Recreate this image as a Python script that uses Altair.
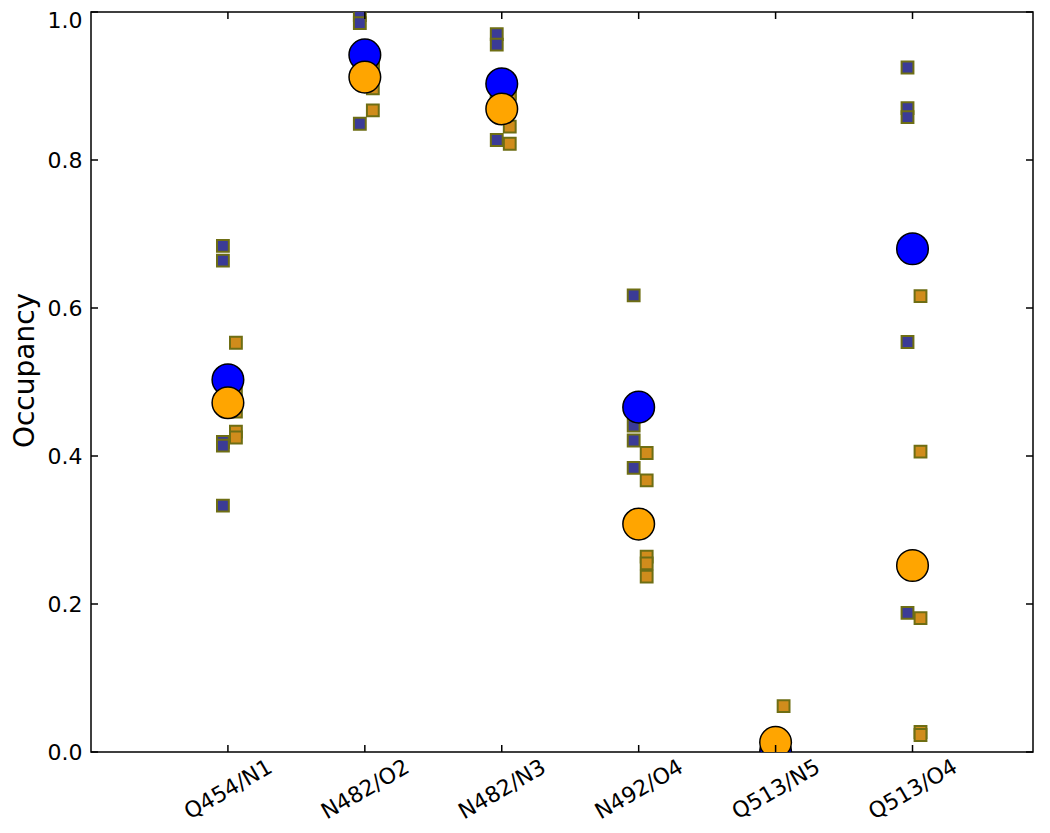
import json
import altair as alt
import pandas as pd

categories = ["Q454/N1", "N482/O2", "N482/N3", "N492/O4", "Q513/N5", "Q513/O4"]
blue_means = [0.503, 0.942, 0.903, 0.466, 0.000, 0.680]
orange_means = [0.472, 0.912, 0.869, 0.308, 0.013, 0.252]
blue_samples = [
    [0.684, 0.664, 0.419, 0.414, 0.333],
    [0.996, 0.985, 0.849, 0.945, 0.935],
    [0.970, 0.956, 0.827, 0.885, 0.877],
    [0.617, 0.441, 0.421, 0.384, 0.467],
    [0.000, 0.000, 0.000, 0.000, 0.000],
    [0.925, 0.870, 0.858, 0.554, 0.188],
]
orange_samples = [
    [0.553, 0.489, 0.460, 0.433, 0.425],
    [0.935, 0.930, 0.931, 0.897, 0.867],
    [0.900, 0.890, 0.888, 0.845, 0.822],
    [0.404, 0.367, 0.264, 0.255, 0.237],
    [0.062, 0.000, 0.000, 0.000, 0.000],
    [0.616, 0.406, 0.181, 0.027, 0.023],
]
y_ticks = [0.0, 0.2, 0.4, 0.6, 0.8, 1.0]

W, H = 942, 740
FONT = "DejaVu Sans"

positions = list(range(1, len(categories) + 1))
means_df = pd.DataFrame({"pos": positions, "blue": blue_means, "orange": orange_means})
bs = pd.DataFrame([{"pos": p, "v": v} for p, vals in zip(positions, blue_samples) for v in vals])
os_ = pd.DataFrame([{"pos": p, "v": v} for p, vals in zip(positions, orange_samples) for v in vals])
yt_df = pd.DataFrame({"v": y_ticks})
xt_df = pd.DataFrame({"pos": positions})

label_expr = json.dumps(categories) + "[datum.value - 1]"

xscale = alt.Scale(domain=[0, 6.88], nice=False, zero=False)
yscale = alt.Scale(domain=[0, 1], nice=False)

x_axis = alt.Axis(values=positions, labelExpr=label_expr, labelAngle=330, labelAlign="center",
                  labelBaseline="middle", labelPadding=37, labelFontSize=22, labelFont=FONT,
                  labelColor="black", ticks=False, domain=False, grid=False, title=None)
y_axis = alt.Axis(values=y_ticks, format=".1f", labelFontSize=22, labelFont=FONT, labelColor="black",
                  labelPadding=9, ticks=False, domain=False, grid=False, title="Occupancy",
                  labelOffset={"condition": {"test": "datum.value == 1", "value": 8}, "value": 0},
                  titleFont=FONT, titleFontSize=28, titleFontWeight="normal", titleColor="black",
                  titleAngle=270, titleX=-66, titleY=358, titleAlign="center", titleBaseline="middle")

X = alt.X("pos:Q", scale=xscale, axis=x_axis)
Ystr = lambda f: alt.Y(f, scale=yscale, axis=y_axis)

sq_blue = alt.Chart(bs).mark_square(size=140, fill="#3b3b96", fillOpacity=1, stroke="#6e6e14",
                                    strokeWidth=2, xOffset=-5, clip=True).encode(x=X, y=Ystr("v:Q"))
sq_orange = alt.Chart(os_).mark_square(size=140, fill="#d08c1c", fillOpacity=1, stroke="#6e6e14",
                                       strokeWidth=2, xOffset=8, clip=True).encode(x=X, y=Ystr("v:Q"))
c_blue = alt.Chart(means_df).mark_circle(size=1000, color="#0000ff", opacity=1, stroke="black",
                                         strokeWidth=1.5, clip=True).encode(x=X, y=Ystr("blue:Q"))
c_orange = alt.Chart(means_df).mark_circle(size=1000, color="#ffa500", opacity=1, stroke="black",
                                           strokeWidth=1.5, clip=True).encode(x=X, y=Ystr("orange:Q"))

tick_len = 7
yt_left = alt.Chart(yt_df).mark_rule(color="black", strokeWidth=1.5).encode(
    y=Ystr("v:Q"), x=alt.value(0), x2=alt.value(tick_len))
yt_right = alt.Chart(yt_df).mark_rule(color="black", strokeWidth=1.5).encode(
    y=Ystr("v:Q"), x=alt.value(W - tick_len), x2=alt.value(W))
xt_bottom = alt.Chart(xt_df).mark_rule(color="black", strokeWidth=1.5).encode(
    x=X, y=alt.value(H - tick_len), y2=alt.value(H))
xt_top = alt.Chart(xt_df).mark_rule(color="black", strokeWidth=1.5).encode(
    x=X, y=alt.value(0), y2=alt.value(tick_len))

chart = alt.layer(sq_blue, sq_orange, c_blue, c_orange, yt_left, yt_right, xt_bottom, xt_top).properties(
    width=W, height=H,
    autosize=alt.AutoSizeParams(type="none"),
    padding={"left": 83, "top": 4, "right": 9, "bottom": 73},
    background="white",
).configure_view(stroke="black", strokeWidth=1.5)

chart.save("out.html", embed_options={"renderer": "svg", "actions": False})
